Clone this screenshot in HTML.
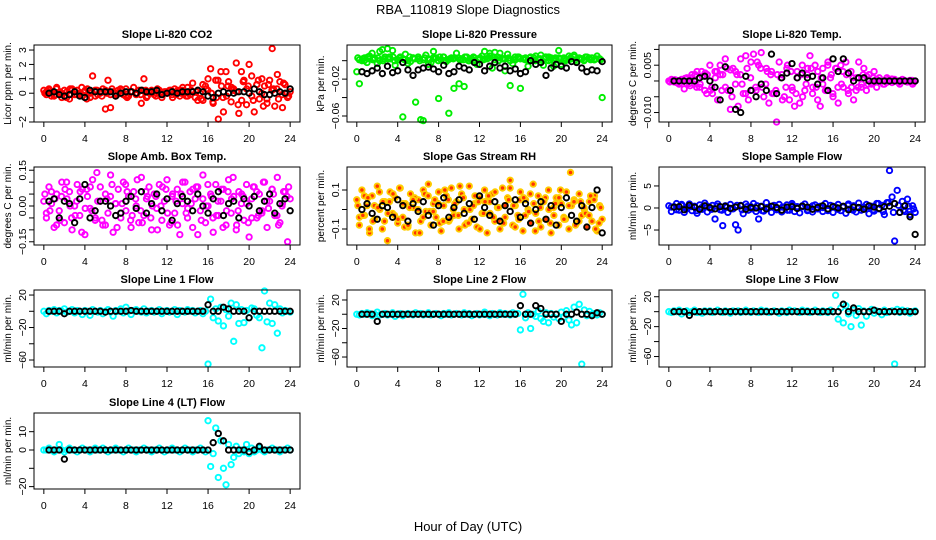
<!DOCTYPE html>
<html><head><meta charset="utf-8"><style>
html,body{margin:0;padding:0;background:#fff;}
svg{display:block;font-family:"Liberation Sans",Arial,sans-serif;}
</style></head><body>
<svg id="chart" width="936" height="540" viewBox="0 0 936 540">
<rect x="0" y="0" width="936" height="540" fill="#fff"/>
<text x="468" y="14" text-anchor="middle" font-size="13">RBA_110819  Slope Diagnostics</text>
<text x="468" y="531" text-anchor="middle" font-size="13">Hour of Day (UTC)</text>
</svg>
<script>
const co2Color=[0.2,-0.1,0.3,0.1,-0.2,0.4,0.0,-0.3,0.2,0.1,-0.4,0.3,-0.1,0.2,0.0,-0.2,0.1,0.3,-0.3,1.2,0.2,-0.1,0.0,0.3,-1.1,0.9,-1.0,0.1,-0.2,0.2,0.0,-0.1,0.3,-0.2,0.1,0.4,-0.1,0.2,-0.7,1.0,-0.3,0.1,0.2,-0.1,0.0,0.2,-0.3,0.1,0.0,0.2,-0.1,0.3,0.1,-0.2,0.2,0.0,0.4,-0.1,0.7,-0.3,0.2,0.0,-0.5,0.5,1.0,1.7,-0.7,0.9,-1.8,1.5,-1.3,1.5,0.8,-0.6,0.3,2.1,-1.4,1.5,0.9,-0.8,2.0,1.2,-1.3,0.6,-0.4,1.0,0.5,-0.7,0.9,3.1,-0.9,1.3,0.8,-1.0,0.6,-0.3,0.1];
const co2Color2=[0.1,-0.2,0.3,0.0,-0.3,0.2,-0.1,0.4,-0.4,0.1,0.2,-0.2,0.0,0.3,-0.1,0.2,-0.3,0.1,0.0,0.2,-0.2,0.1,0.3,-0.1,0.0,-0.3,0.2,0.4,-0.2,0.1,-0.5,0.6,0.2,-0.6,0.9,-0.3,0.5,0.2,-0.8,0.8,0.5,-0.5,0.9,-0.9,0.6,0.3,-0.4,0.7,-0.2];
const co2Color3=[0.0,0.2,-0.1,0.1,-0.2,0.3,0.1,-0.1,0.2,0.0,-0.2,0.1,0.2,-0.1,0.0,0.3,-0.2,0.1,0.0,-0.1,0.2,0.1,-0.2,0.0,0.1,0.2,-0.1,0.0,-0.2,0.2,0.1,-0.4,0.3,0.0,-0.3,0.5,-0.2,0.4,0.1,-0.5,0.3,-0.2,0.6,0.0,-0.4,0.2,0.3,-0.1,0.0];
const co2Black=[0,0.1,-0.1,-0.2,-0.1,0.1,-0.2,-0.3,0.2,0.1,0.1,0.1,0.1,-0.2,0,0.1,0.1,0,0.2,0.1,0.1,0.2,-0.1,0,0.1,0,0.1,0.1,0.1,0.2,0.1,-0.2,-0.3,0,0.1,0,0,0.1,0.1,0,0.3,0.1,-0.1,-0.1,0,0.1,0,0.3];
const presColor=[-0.012,-0.025,0.000,0.003,-0.002,0.005,0.008,0.002,-0.003,0.010,0.012,0.004,0.013,0.002,0.011,-0.005,0.001,0.004,-0.061,0.007,-0.003,-0.001,0.003,-0.045,0.002,-0.064,-0.065,0.006,-0.004,-0.002,0.010,0.003,-0.041,0.001,0.004,-0.001,-0.057,0.003,-0.030,0.008,-0.025,0.002,-0.028,0.004,0.000,0.002,0.003,-0.004,0.001,0.005,0.010,0.002,0.008,-0.008,0.009,0.004,0.008,0.002,-0.011,0.007,-0.027,-0.003,0.001,0.004,-0.030,0.002,0.003,-0.006,0.004,0.001,0.005,0.002,0.006,-0.005,0.004,0.000,0.003,-0.006,0.002,0.011,-0.004,0.003,0.001,0.005,0.002,0.006,-0.001,0.003,0.002,0.001,0.004,0.002,0.003,0.001,0.005,0.002,-0.040];
const presColor2=[0.001,0.000,0.002,0.003,0.000,0.002,0.004,0.000,0.003,0.001,0.004,0.002,0.000,0.003,0.001,0.002,0.004,0.000,0.002,0.003,0.001,0.004,0.002,0.000,0.003,0.002,0.005,0.001,0.003,0.002,0.000,0.004,0.002,0.001,0.003,0.000,0.002,0.004,0.001,0.003,0.002,0.000,0.003,0.001,0.002,0.004,0.001,0.002,0.001];
const presColor3=[0.003,0.002,0.004,0.001,0.003,0.000,0.002,0.004,0.001,0.002,0.000,0.003,0.004,0.001,0.002,0.003,0.000,0.004,0.001,0.002,0.003,0.001,0.000,0.004,0.002,0.001,0.003,0.004,0.000,0.002,0.003,0.001,0.004,0.002,0.000,0.003,0.001,0.002,0.004,0.000,0.003,0.002,0.001,0.004,0.002,0.000,0.003,0.001,0.002];
const presBlack=[-0.012,-0.014,-0.011,-0.008,-0.014,-0.006,-0.013,-0.011,-0.002,-0.010,-0.016,-0.010,-0.008,-0.007,-0.009,-0.012,-0.005,-0.014,-0.012,-0.006,-0.008,-0.010,-0.002,-0.004,-0.011,-0.006,-0.002,-0.008,-0.006,-0.011,-0.009,-0.014,-0.012,0.000,-0.004,-0.002,-0.016,-0.008,-0.004,-0.006,-0.008,-0.001,-0.002,-0.008,-0.012,-0.010,-0.011,-0.001];
const ltempColor=[0,0.0005,-0.0003,0.0002,-0.001,0.0004,-0.0025,0.001,-0.0008,0.002,-0.001,0.003,-0.002,0.0015,-0.003,0.002,0.005,-0.004,0.003,-0.006,0.005,0.002,0.007,-0.003,-0.009,0.004,0.003,-0.008,0.007,-0.004,0.008,-0.006,0.006,0.0085,-0.003,0.005,0.009,-0.005,0.004,-0.007,0.003,-0.004,-0.013,0.006,0.002,-0.005,0.004,-0.006,-0.002,-0.008,0.003,-0.007,0.005,-0.003,0.002,0.008,-0.004,0.005,-0.006,-0.008,0.004,-0.003,0.006,0.001,-0.005,0.004,-0.007,0.005,-0.002,0.006,-0.004,0.003,-0.006,-0.003,0.006,-0.002,0.004,-0.003,0.002,-0.001,0.003,-0.002,0.001,0.000,-0.001,0.001,0.000,-0.0005,0.0005,0.000,-0.001,0.0005,0.000,-0.0003,0.0002,-0.001,0.000];
const ltempColor2=[0.0003,-0.0005,0.0005,-0.0008,0.001,-0.002,0.003,-0.004,-0.002,0.003,-0.003,0.004,-0.005,0.002,-0.001,0.004,-0.003,0.006,-0.002,0.003,-0.004,0.002,-0.006,0.005,-0.003,0.001,-0.005,0.004,-0.002,0.003,-0.001,0.005,-0.004,-0.002,0.003,-0.003,0.001,-0.002,0.002,-0.001,0.001,0.000,-0.001,0.0005,0.000,-0.0005,0.0003,0.000,-0.0005];
const ltempColor3=[-0.0003,0.0004,-0.0006,0.0008,-0.0015,0.002,-0.001,0.0025,-0.003,0.001,0.002,-0.002,0.0035,-0.001,0.002,-0.004,0.001,-0.002,0.004,-0.001,0.002,-0.003,0.001,-0.002,0.003,-0.004,0.002,-0.001,0.004,-0.002,0.001,-0.003,0.002,0.004,-0.001,0.002,-0.002,0.001,-0.001,0.0015,-0.0005,0.0005,0.000,-0.0004,0.0006,0.000,0.0003,-0.0003,0.0002];
const ltempBlack=[0,0,0,0,0,0.001,0.0015,0,-0.002,-0.006,0.0045,-0.003,-0.009,-0.010,0.0015,-0.003,-0.005,-0.001,-0.003,0.0085,-0.004,0.001,0.0025,0.0055,0.001,0.0025,0.001,0.0015,-0.001,0.001,-0.003,0.007,0.003,0.007,0.0025,0,0.001,0.001,0,0,0,0,0,0,0,0,0,0];
const ambColor=[0.02,-0.05,0.08,0.01,-0.09,0.05,-0.02,0.10,-0.07,0.03,0.06,-0.10,0.00,0.09,-0.04,0.07,-0.12,0.04,-0.01,0.11,-0.06,0.02,0.08,-0.08,0.05,-0.03,0.13,-0.11,0.01,0.07,-0.05,0.10,-0.02,0.04,-0.09,0.06,0.00,-0.07,0.12,-0.04,0.03,0.08,-0.10,0.05,-0.01,0.09,-0.06,0.02,0.11,-0.08,0.04,-0.03,0.07,-0.12,0.01,0.10,-0.05,0.06,-0.09,0.03,0.08,-0.02,0.13,-0.07,0.00,0.05,-0.11,0.09,-0.04,0.02,0.07,-0.08,0.11,-0.03,0.04,-0.10,0.06,0.01,-0.06,0.09,-0.13,0.03,0.08,-0.05,0.05,-0.02,0.10,-0.09,0.02,0.07,-0.04,0.12,-0.07,0.01,0.06,-0.15,0.03];
const ambColor2=[-0.03,0.06,-0.08,0.04,0.10,-0.05,0.02,-0.11,0.07,-0.02,0.14,-0.06,0.03,0.09,-0.09,0.01,0.06,-0.04,0.11,-0.07,0.04,0.00,-0.10,0.08,-0.03,0.05,-0.08,0.10,-0.01,0.07,-0.12,0.03,0.09,-0.05,0.02,-0.09,0.06,0.12,-0.02,0.04,-0.07,0.08,-0.04,0.10,-0.01,0.05,-0.08,0.06,0.08];
const ambColor3=[0.05,-0.02,0.03,-0.06,0.07,0.00,-0.04,0.06,-0.01,0.08,-0.05,0.02,-0.08,0.04,0.01,-0.03,0.09,-0.06,0.03,-0.02,0.06,-0.05,0.04,0.00,0.07,-0.07,0.02,0.05,-0.03,0.01,0.08,-0.06,0.00,0.04,-0.04,0.07,-0.02,0.03,-0.08,0.05,0.01,-0.05,0.06,-0.03,0.02,0.07,-0.04,0.00,0.04];
const ambBlack=[0.02,0.03,-0.05,0.02,0.01,-0.07,0.03,0.09,-0.05,-0.02,0.02,0.02,0.00,-0.04,-0.03,0.02,0.04,-0.01,0.06,-0.03,0.01,0.05,-0.02,0.03,-0.06,0.01,0.04,0.02,-0.02,0.05,0.00,-0.03,0.03,0.06,-0.04,0.01,0.02,-0.05,0.03,0.00,0.04,-0.02,0.02,0.05,-0.03,0.01,0.03,-0.02];
const rhColor=[0.05,-0.08,0.10,-0.03,0.02,-0.12,0.07,-0.05,0.12,0.00,-0.10,0.04,-0.16,0.09,-0.02,0.06,-0.07,0.11,-0.04,0.03,-0.09,0.08,0.01,-0.12,0.05,-0.06,0.10,-0.01,0.13,-0.08,0.03,-0.04,0.09,-0.11,0.02,0.07,-0.06,0.11,-0.03,0.04,-0.10,0.08,0.00,-0.07,0.12,-0.05,0.03,-0.09,0.06,-0.02,0.10,-0.12,0.04,0.08,-0.06,0.01,-0.10,0.11,-0.04,0.06,0.15,-0.08,0.02,-0.03,0.09,-0.11,0.05,0.00,-0.07,0.13,-0.02,0.07,-0.09,0.04,-0.05,0.10,-0.12,0.01,0.06,-0.08,0.03,-0.04,0.09,-0.10,0.02,0.05,-0.07,0.08,-0.03,0.00,-0.09,0.04,-0.06,0.07,-0.11,0.02,-0.05];
const rhColor2=[-0.04,0.07,-0.10,0.02,0.09,-0.06,0.04,-0.03,0.11,-0.09,0.01,0.06,-0.12,0.08,-0.01,0.05,-0.07,0.10,-0.05,0.03,0.12,-0.08,0.00,0.07,-0.10,0.04,-0.02,0.09,-0.06,0.02,0.11,-0.09,0.05,-0.03,0.08,-0.11,0.01,0.06,-0.07,0.03,0.10,-0.05,0.19,-0.08,0.04,-0.02,0.07,-0.10,0.01];
const rhColor3=[0.02,-0.03,0.06,-0.06,0.01,0.04,-0.02,0.08,-0.05,0.03,-0.08,0.05,0.00,-0.04,0.07,-0.01,0.03,-0.06,0.05,0.00,-0.03,0.06,-0.07,0.02,0.04,-0.02,0.07,-0.04,0.01,-0.07,0.05,0.02,-0.05,0.06,-0.01,0.03,-0.06,0.04,0.00,-0.03,0.06,-0.05,0.02,0.04,-0.06,0.01,-0.03,0.05,-0.07];
const rhBlack=[0.00,0.03,-0.02,-0.05,0.02,0.01,-0.04,0.05,0.02,-0.06,0.03,-0.01,0.04,-0.03,-0.08,0.02,0.06,-0.04,0.01,0.05,-0.02,0.03,-0.05,0.07,0.01,-0.03,0.04,-0.06,0.02,-0.01,0.05,-0.04,0.03,-0.07,0.00,0.04,-0.05,0.02,-0.08,0.01,0.06,-0.03,-0.06,0.02,-0.09,0.01,0.10,-0.12];
const flowColor=[0.5,-0.8,0.3,1.0,-0.5,0.8,-1.0,0.2,0.9,-0.6,0.4,-1.2,0.7,-0.3,1.1,-0.9,0.0,0.6,-2.5,0.9,-0.4,-4.0,0.5,-1.0,0.8,-0.2,-3.8,-5.0,0.6,-1.3,0.9,-0.5,0.3,1.0,-0.8,-2.5,0.4,-0.7,1.2,0.1,-1.0,0.6,-0.4,0.8,-0.9,0.2,0.7,-0.5,1.0,-0.8,0.3,-1.1,0.5,0.9,-0.6,0.1,-0.9,0.7,-0.2,0.4,-0.8,1.0,-0.4,0.6,-1.0,0.2,0.8,-0.6,0.3,-1.2,0.9,-0.3,0.5,-0.9,1.1,-0.5,0.2,0.8,-1.3,0.4,-0.7,1.0,-0.2,0.6,-1.5,1.2,8.5,2.5,-7.5,4.0,-1.0,1.5,-0.8,2.0,-1.5,0.5,-1.0];
const flowColor2=[0.2,-0.4,0.6,-0.2,0.3,-0.6,0.1,0.5,-0.3,0.4,-0.5,0.2,-0.1,0.6,-0.4,0.3,-0.2,0.5,-0.6,0.1,0.4,-0.3,0.2,-0.5,0.6,-0.1,0.3,-0.4,0.5,-0.2,0.1,-0.6,0.4,-0.3,0.2,0.6,-0.5,0.1,-0.2,0.3,-0.4,1.0,-0.8,1.2,-1.0,0.6,-0.5,0.4,-0.2];
const flowBlack=[0.2,0.3,-0.4,0.6,0.2,-0.3,0.5,0.1,-0.2,0.3,0.4,-0.1,0.2,0.5,-0.3,0.1,0.0,0.3,-0.2,0.4,0.1,-0.5,0.2,0.3,-0.1,0.4,0.2,-0.3,0.1,0.5,-0.2,0.3,0.0,0.4,-0.4,0.2,0.1,-0.3,0.5,0.2,-0.1,0.3,0.4,1.0,-1.0,0.5,-2.0,-6.0];
const line1Color=[0,-3,1,0,2,-2,1,0,3,-1,0,2,-2,1,0,-4,1,0,-5,2,0,-1,1,-3,0,2,-1,-6,1,0,3,-2,5,0,-4,1,2,0,-1,3,-2,0,1,-1,0,2,-3,0,1,-1,0,2,-4,1,0,-1,2,0,1,-2,0,1,-3,0,-65,15,-8,3,-12,5,-18,2,-6,10,-37,8,-15,2,-14,1,-8,4,3,-5,-8,-45,25,-13,10,-15,8,-27,3,-2,1,0,-1];
const line1Black=[0,0,0,-3,0,0,0,0,0,0,0,-1,0,0,0,0,1,0,0,0,0,0,0,0,0,0,0,0,0,0,0,8,0,0,5,3,0,0,0,-8,0,0,0,0,0,0,0,0];
const line2Color=[0,-1,1,0,2,1,-2,0,3,-1,0,1,-1,0,2,-3,0,1,-2,0,1,0,-1,2,0,1,-1,0,2,-1,0,1,0,-2,1,0,2,-1,0,1,0,-1,2,0,1,-2,0,1,-1,0,3,0,-2,1,0,-1,2,0,1,0,-1,2,0,1,-22,28,-5,2,-20,0,-3,4,-6,-10,2,-12,1,-4,0,-6,3,-4,5,-8,-15,10,-12,14,-70,6,-2,4,0,1,-1,2,0];
const line2Black=[0,0,0,-10,0,0,0,0,0,0,0,0,0,0,0,0,0,0,0,0,0,0,0,0,0,0,0,0,0,0,0,12,0,0,12,8,0,0,0,-10,0,0,3,0,0,-2,2,0];
const line3Color=[0,-1,1,0,2,-3,0,1,-1,0,2,-1,0,-2,1,0,1,-1,0,2,0,-1,1,0,-2,1,0,1,-1,0,2,0,-1,1,0,-1,2,0,1,-1,0,1,0,-2,1,0,-1,2,0,1,0,-1,2,0,1,-1,0,2,0,-1,1,0,-1,2,0,22,-10,5,-15,8,-3,-20,2,-5,4,-18,1,-6,0,3,-2,1,0,-4,2,-1,0,1,-70,3,-1,2,0,1,-2,0,1];
const line3Black=[0,0,0,-5,0,0,0,0,0,0,0,0,0,0,0,0,0,0,0,0,0,0,0,0,0,0,0,0,0,0,0,0,0,10,0,5,0,0,0,2,0,0,0,0,0,0,0,0];
const line4Color=[0,0,1,0,-1,0,3,0,-1,0,1,0,0,-1,0,1,0,0,-1,0,1,0,0,1,0,-1,0,0,1,0,0,-1,0,1,0,0,-1,0,0,1,0,0,-1,0,0,1,0,-1,0,0,1,0,0,-1,0,1,0,0,-1,0,0,1,0,-1,16,-9,-2,12,-15,5,-10,-19,3,-8,-4,2,-2,0,-1,3,-2,1,-1,0,1,0,-1,0,0,1,0,0,-1,0,0,1,0];
const line4Black=[0,0,0,-5,0,0,0,0,0,0,0,0,0,0,0,0,0,0,0,0,0,0,0,0,0,0,0,0,0,0,0,0,4,9,5,0,0,0,0,-1,0,2,0,0,0,0,0,0];
const xTicks=[0,4,8,12,16,20,24];

const NS='http://www.w3.org/2000/svg';
const svg=document.getElementById('chart');
const colLeft=[34,347,659], colRight=[300,612,925];
const rowTop=[45,167,290,413], rowBottom=[122,245,367,489];
function mk(tag,attrs,parent){const e=document.createElementNS(NS,tag);for(const k in attrs)e.setAttribute(k,attrs[k]);(parent||svg).appendChild(e);return e;}

const panels=[
 {id:'co2',c:0,r:0,title:'Slope Li-820 CO2',ylab:'Licor ppm per min.',ylim:[-2.0,3.35],ticks:[-2,-1,0,1,2,3],labels:['-2','','0','1','2','3'],series:[co2Color,co2Color2,co2Color3],black:co2Black,stroke:'#ff0000',fill:'none'},
 {id:'pressure',c:1,r:0,title:'Slope Li-820 Pressure',ylab:'kPa per min.',ylim:[-0.0665,0.017],ticks:[-0.06,-0.04,-0.02,0],labels:['-0.06','','-0.02',''],series:[presColor,presColor2,presColor3],black:presBlack,stroke:'#00ee00',fill:'none'},
 {id:'li820-temp',c:2,r:0,title:'Slope Li-820 Temp.',ylab:'degrees C per min.',ylim:[-0.013,0.0114],ticks:[-0.01,-0.005,0,0.005,0.01],labels:['-0.010','','','0.005',''],series:[ltempColor,ltempColor2,ltempColor3],black:ltempBlack,stroke:'#ff00ff',fill:'none'},
 {id:'amb-box-temp',c:0,r:1,title:'Slope Amb. Box Temp.',ylab:'degrees C per min.',ylim:[-0.1635,0.1635],ticks:[-0.15,-0.1,-0.05,0,0.05,0.1,0.15],labels:['-0.15','','','0.00','','','0.15'],series:[ambColor,ambColor2,ambColor3],black:ambBlack,stroke:'#ff00ff',fill:'none'},
 {id:'gas-stream-rh',c:1,r:1,title:'Slope Gas Stream RH',ylab:'percent per min.',ylim:[-0.182,0.218],ticks:[-0.1,0,0.1],labels:['-0.1','','0.1'],series:[rhColor,rhColor2,rhColor3],black:rhBlack,stroke:'#ffcc00',fill:'#ff3300'},
 {id:'sample-flow',c:2,r:1,title:'Slope Sample Flow',ylab:'ml/min per min.',ylim:[-8.4,9.3],ticks:[-5,0,5],labels:['-5','0','5'],series:[flowColor,flowColor2],black:flowBlack,stroke:'#0000ff',fill:'none'},
 {id:'line1-flow',c:0,r:2,title:'Slope Line 1 Flow',ylab:'ml/min per min.',ylim:[-68.6,26.2],ticks:[-60,-40,-20,0,20],labels:['-60','','-20','','20'],series:[line1Color],black:line1Black,stroke:'#00ffff',fill:'none'},
 {id:'line2-flow',c:1,r:2,title:'Slope Line 2 Flow',ylab:'ml/min per min.',ylim:[-74,34],ticks:[-60,-40,-20,0,20],labels:['-60','','-20','','20'],series:[line2Color],black:line2Black,stroke:'#00ffff',fill:'none'},
 {id:'line3-flow',c:2,r:2,title:'Slope Line 3 Flow',ylab:'ml/min per min.',ylim:[-74,29],ticks:[-60,-40,-20,0,20],labels:['-60','','-20','','20'],series:[line3Color],black:line3Black,stroke:'#00ffff',fill:'none'},
 {id:'line4-flow',c:0,r:3,title:'Slope Line 4 (LT) Flow',ylab:'ml/min per min.',ylim:[-21.3,20.2],ticks:[-20,-10,0,10],labels:['-20','','0','10'],series:[line4Color],black:line4Black,stroke:'#00ffff',fill:'none'}
];

panels.forEach(p=>{
  const L=colLeft[p.c],R=colRight[p.c],T=rowTop[p.r],B=rowBottom[p.r];
  const x0=L+(R-L)*0.037, x1=R-(R-L)*0.037;
  const xs=h=>x0+(x1-x0)*h/24;
  const ys=v=>B-(v-p.ylim[0])/(p.ylim[1]-p.ylim[0])*(B-T);
  const g=mk('g',{});
  
  
  const t=mk('text',{x:(L+R)/2,y:T-7,'text-anchor':'middle','font-size':'11','font-weight':'bold'},g);
  t.textContent=p.title;
  
  
  const yl=mk('text',{x:0,y:0,'text-anchor':'middle','font-size':'10',transform:`translate(${L-23},${(T+B)/2}) rotate(-90)`},g);
  yl.textContent=p.ylab;
  
  
  const pts=mk('g',{},g);
  
  
  p.series.forEach((arr,si)=>{
    arr.forEach((v,i)=>{
      const h=si===0? i*24/(arr.length-1) : (si===1?0.25:0.1)+i*23.6/(arr.length-1);
      const c=mk('circle',{cx:xs(h),cy:ys(v),r:2.7,fill:p.fill,stroke:p.stroke,'stroke-width':1.9},pts);
      
      
    });
  });
  const bl=mk('g',{},g);
  
  
  p.black.forEach((v,i)=>{
    const c=mk('circle',{cx:xs(0.5+i*0.5),cy:ys(v),r:2.7,fill:'none',stroke:'#000','stroke-width':1.9},bl);
    
    
  });
  const box=mk('rect',{x:L,y:T,width:R-L,height:B-T,fill:'none',stroke:'#000','stroke-width':1},g);
  
  
  const xa=mk('g',{},g);
  
  
  xTicks.forEach(h=>{
    mk('line',{x1:xs(h),x2:xs(h),y1:B,y2:B+5,stroke:'#000'},xa);
    const tx=mk('text',{x:xs(h),y:B+20,'text-anchor':'middle','font-size':'10.5'},xa);
    tx.textContent=String(h);
    
    
  });
  const ya=mk('g',{},g);
  
  
  p.ticks.forEach((v,i)=>{
    mk('line',{x1:L-5,x2:L,y1:ys(v),y2:ys(v),stroke:'#000'},ya);
    if(p.labels[i]){
      const tx=mk('text',{x:0,y:0,'text-anchor':'middle','font-size':'10.5',transform:`translate(${L-8},${ys(v)}) rotate(-90)`},ya);
      tx.textContent=p.labels[i].replace('-','\u2212');
      
      
    }
  });
});
</script>
</body></html>
